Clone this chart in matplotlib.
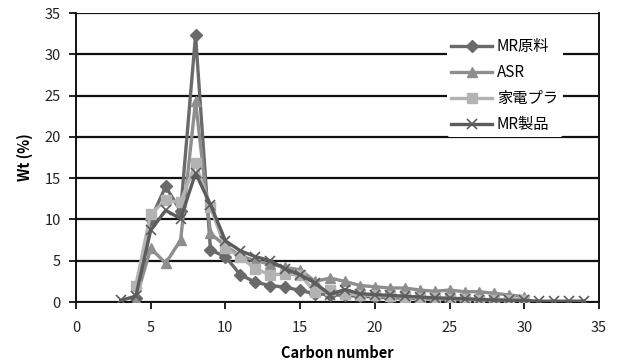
import numpy as np
import matplotlib
matplotlib.use("Agg")
import matplotlib.pyplot as plt

plt.rcParams['font.family'] = ['Noto Sans CJK JP', 'DejaVu Sans']

# carbon numbers for each series
c_raw = list(range(4, 31))
c_asr = list(range(4, 31))
c_kaden = list(range(4, 31))
c_prod = list(range(3, 35))

# MR原料
mr_raw = [0.5, 10.0, 14.0, 11.0, 32.3, 6.3, 5.5, 3.3, 2.4, 2.0, 1.8, 1.4, 1.0, 0.9, 0.8,
          0.7, 0.6, 0.5, 0.5, 0.4, 0.4, 0.3, 0.3, 0.3, 0.2, 0.2, 0.2]
# ASR
asr = [0.3, 6.5, 4.7, 7.5, 24.3, 8.3, 6.8, 5.6, 5.0, 4.6, 4.2, 3.9, 2.5, 2.9, 2.5,
       2.0, 1.85, 1.7, 1.7, 1.45, 1.3, 1.45, 1.25, 1.25, 1.05, 0.85, 0.65]
# 家電プラ
kaden = [2.0, 10.7, 12.3, 12.1, 16.8, 11.5, 6.5, 5.5, 4.0, 3.3, 3.4, 3.3, 1.2, 1.5, 1.0,
         0.9, 0.8, 0.7, 0.6, 0.5, 0.5, 0.4, 0.4, 0.3, 0.3, 0.3, 0.3]
# MR製品
mr_prod = [0.2, 0.7, 8.7, 11.1, 10.1, 15.6, 11.8, 7.4, 6.2, 5.5, 5.0, 4.0, 3.3, 2.3, 0.9,
           1.5, 1.0, 0.9, 0.8, 0.7, 0.6, 0.5, 0.45, 0.4, 0.3, 0.25, 0.2, 0.2, 0.1, 0.1,
           0.1, 0.1]

fig = plt.figure(figsize=(6.2, 3.63), dpi=100)
ax = fig.add_axes([0.1226, 0.168, 0.8435, 0.796])

ax.plot(c_raw, mr_raw, color='#6a6a6a', lw=2.4, marker='D', ms=6.5, label='MR原料', zorder=3)
ax.plot(c_asr, asr, color='#8e8e8e', lw=2.4, marker='^', ms=7.5, label='ASR', zorder=4)
ax.plot(c_kaden, kaden, color='#b3b3b3', lw=2.4, marker='s', ms=7, label='家電プラ', zorder=5)
ax.plot(c_prod, mr_prod, color='#5c5c5c', lw=2.4, marker='x', ms=7, mew=1.2,
        label='MR製品', zorder=6)

ax.set_xlim(0, 35)
ax.set_ylim(0, 35)
ax.set_xticks(np.arange(0, 36, 5))
ax.set_yticks(np.arange(0, 36, 5))
ax.yaxis.grid(True, color='#111111', lw=1.6)
ax.set_axisbelow(True)
for s in ['left', 'bottom', 'right']:
    ax.spines[s].set_color('#111111')
    ax.spines[s].set_linewidth(1.4)
ax.spines['top'].set_visible(False)
ax.tick_params(axis='both', direction='out', length=5, width=1.3, color='#111111',
               labelsize=10.5, labelcolor='#222222', pad=6)
ax.tick_params(axis='x', pad=9)

ax.set_xlabel('Carbon number', fontsize=10.5, fontweight='bold', labelpad=7)
ax.set_ylabel('Wt (%)', fontsize=10.5, fontweight='bold', labelpad=8)

leg = ax.legend(loc='upper right', bbox_to_anchor=(0.945, 0.955), frameon=True,
                fontsize=11, handlelength=2.7, labelspacing=0.58, borderpad=0.3,
                handletextpad=0.3)
leg.get_frame().set_edgecolor('none')
leg.get_frame().set_facecolor('white')
leg.get_frame().set_alpha(1)

fig.savefig('out.png', dpi=100)
